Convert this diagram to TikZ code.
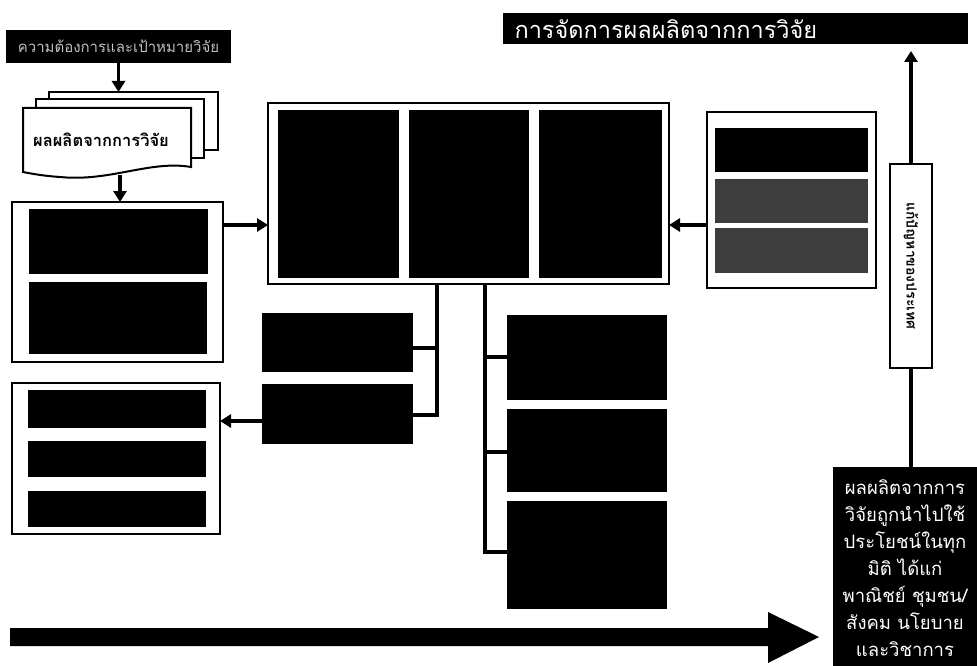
\documentclass[tikz,border=0pt]{standalone}
\usepackage{fontspec}
\newfontfamily\thai[Script=Thai]{Loma}
\usetikzlibrary{arrows.meta}
\tikzset{
  frame/.style={draw=black, line width=2pt, fill=white, inner sep=0pt, outer sep=0pt, anchor=north west},
  blk/.style={fill=black, inner sep=0pt, outer sep=0pt, anchor=north west},
  gblk/.style={fill=black!76, inner sep=0pt, outer sep=0pt, anchor=north west},
  conn/.style={line width=3.2pt},
  arr/.style={line width=3.2pt, -{Triangle[length=11pt,width=13pt]}},
  wtext/.style={text=white, font=\thai, align=center},
}
\newcommand{\mybox}[7]{\node[#1, minimum width={(#4-#2)*1pt}, minimum height={(#5-#3)*1pt}] (#6) at (#2,#3) {#7};}
\begin{document}
\begin{tikzpicture}[x=1pt,y=-1pt]
\useasboundingbox[fill=white] (0,0) rectangle (977,666);

% title bar
\mybox{blk}{503}{13}{968}{44}{title}{}
\node[wtext, anchor=west, font=\thai\fontsize{23.5}{26}\selectfont] (titletext) at (511,29) {การจัดการผลผลิตจากการวิจัย};

% top-left need box
\mybox{blk}{6}{30}{231}{63}{need}{}
\node[text=black!25, font=\thai\fontsize{15}{17}\selectfont] (needtext) at (need.center) {ความต้องการและเป้าหมายวิจัย};

% document stack
\mybox{frame}{49}{92}{218}{150}{page3}{}
\mybox{frame}{36}{99}{204}{158}{page2}{}
\draw[line width=2pt, fill=white] (23,108) -- (191,108) -- (191,167)
  .. controls (150,160) and (110,182) .. (60,177)
  .. controls (45,176) and (33,174) .. (23,172) -- cycle;
\node[font=\thai\bfseries\fontsize{16.5}{18}\selectfont] (doctext) at (101,140) {ผลผลิตจากการวิจัย};
\coordinate (docBot) at (120,175);

% left panel 1
\mybox{frame}{12}{202}{223}{362}{lp1}{}
\mybox{blk}{29}{209}{208}{274}{lp1a}{}
\mybox{blk}{29}{282}{207}{354}{lp1b}{}

% big center box
\mybox{frame}{268}{103}{669}{284}{big}{}
\mybox{blk}{278}{110}{399}{278}{c1}{}
\mybox{blk}{409}{110}{529}{278}{c2}{}
\mybox{blk}{539}{110}{662}{278}{c3}{}

% right panel
\mybox{frame}{707}{112}{876}{288}{rp}{}
\mybox{blk}{715}{128}{868}{172}{rpa}{}
\mybox{gblk}{715}{179}{868}{223}{rpb}{}
\mybox{gblk}{715}{228}{868}{273}{rpc}{}

% small boxes below
\mybox{blk}{262}{313}{413}{372}{s1}{}
\mybox{blk}{262}{384}{413}{444}{s2}{}

% left panel 2
\mybox{frame}{12}{383}{220}{534}{lp2}{}
\mybox{blk}{28}{390}{206}{428}{lp2a}{}
\mybox{blk}{28}{441}{206}{477}{lp2b}{}
\mybox{blk}{28}{491}{206}{527}{lp2c}{}

% right column boxes
\mybox{blk}{507}{315}{667}{400}{r1}{}
\mybox{blk}{507}{409}{667}{492}{r2}{}
\mybox{blk}{507}{501}{667}{609}{r3}{}

% vertical box
\mybox{frame}{890}{164}{932}{368}{vbox}{\rotatebox{-90}{\thai\bfseries\fontsize{14}{16}\selectfont แก้ปัญหาของประเทศ}}

% result box
\mybox{blk}{833}{467}{977}{666}{res}{}
\node[wtext, font=\thai\fontsize{18.5}{27}\selectfont] (restext) at (905,568) {ผลผลิตจากการ\\วิจัยถูกนำไปใช้\\ประโยชน์ในทุก\\มิติ ได้แก่\\พาณิชย์ ชุมชน/\\สังคม นโยบาย\\และวิชาการ};

% coordinates for connectors
\coordinate (j1) at (437,415);
\coordinate (j2) at (437,348);
\coordinate (k1) at (485,357);
\coordinate (k2) at (485,452);
\coordinate (k3) at (485,552);

% connectors
\draw[arr] (need.south) -- (need.south |- page3.north);
\draw[arr] (docBot) -- (docBot |- lp1.north);
\draw[arr] (lp1.east |- 0,225) -- (big.west |- 0,225);
\draw[arr] (rp.west |- 0,225) -- (big.east |- 0,225);
\draw[conn] (big.south -| j1) -- (j1) -- (j1 -| s2.east);
\draw[conn] (j2) -- (j2 -| s1.east);
\draw[arr] (s2.west |- 0,421) -- (lp2.east |- 0,421);
\draw[conn] (big.south -| k3) -- (k3) -- (k3 -| r3.west);
\draw[conn] (k1) -- (k1 -| r1.west);
\draw[conn] (k2) -- (k2 -| r2.west);
\draw[arr, shorten >=7pt] (vbox.north) -- (vbox.north |- title.south);
\draw[conn] (vbox.south) -- (vbox.south |- res.north);

% big bottom arrow
\fill[black] (10,628) -- (768,628) -- (768,612) -- (819,637) -- (768,663) -- (768,646) -- (10,646) -- cycle;
\end{tikzpicture}
\end{document}
